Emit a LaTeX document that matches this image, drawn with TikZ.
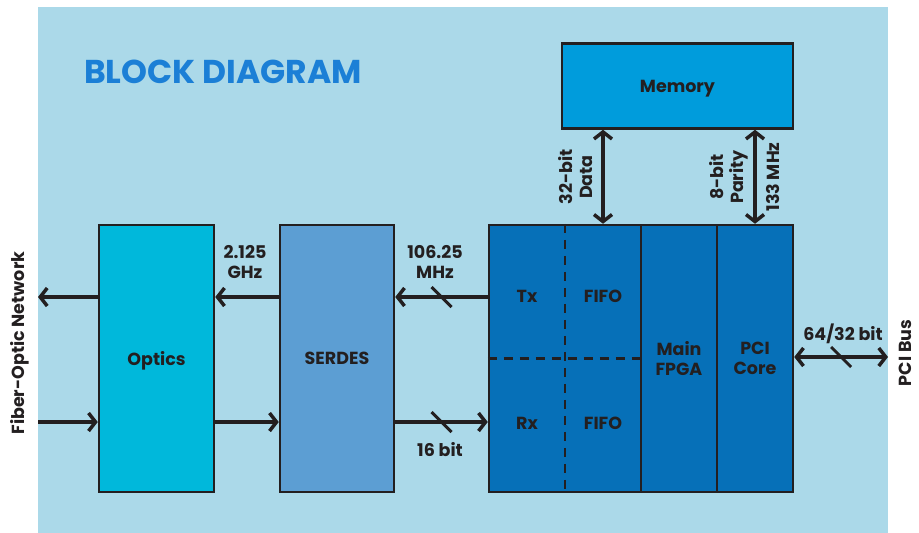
\documentclass[tikz,border=0pt]{standalone}
\usepackage{fontspec}
\setmainfont{Poppins}
\usepackage{tikz}
\usetikzlibrary{arrows.meta,calc,positioning}
\definecolor{skyback}{HTML}{ABD9E9}
\definecolor{opticsblue}{HTML}{00B8DB}
\definecolor{serdesblue}{HTML}{5C9ED3}
\definecolor{fpgablue}{HTML}{0670B8}
\definecolor{memblue}{HTML}{009CDC}
\definecolor{titleblue}{HTML}{1B7FD6}
\definecolor{ink}{HTML}{231F20}

\begin{document}
\begin{tikzpicture}[x=1pt,y=-1pt,% List of styles applied to all, to override specify on a case-by-case
	every node/.style={
		align=center,		% use this so that the "\\" for line break works
		inner sep=0pt,
		text depth=0pt,
		text=ink,
		font=\bfseries\fontsize{17.5}{20}\selectfont
		},
	block/.style={rectangle,draw=ink,line width=2.5pt,minimum height=267pt},
	bus/.style={draw=ink,line width=3.5pt,arrows={-Straight Barb[length=7pt,width=18pt]}},
	twoway/.style={bus,arrows={Straight Barb[length=7pt,width=18pt]-Straight Barb[length=7pt,width=18pt]}},
	slash/.style={draw=ink,line width=3pt}
	]
	% page and background
	\useasboundingbox (0,0) rectangle (919,533);
	\fill[skyback] (38,7) rectangle (888,533);
	\node[text=titleblue,font=\bfseries\fontsize{33}{36}\selectfont](heading) at (223,72){BLOCK DIAGRAM};
	% blocks
	\node[block,fill=opticsblue,minimum width=115pt](optics) at (156.5,358.5){Optics};
	\node[block,fill=serdesblue,minimum width=114pt](serdes)[right=63.5pt of optics]{SERDES};
	\node[block,fill=fpgablue,minimum width=152pt](fpgaio) at (565,358.5){};
	\node[block,fill=fpgablue,minimum width=76pt](mainfpga) at (679,358.5){Main\\FPGA};
	\node[block,fill=fpgablue,minimum width=76pt](pcicore) at (755,358.5){PCI\\Core};
	\node[block,fill=memblue,minimum width=231pt,minimum height=85pt](memory) at (677.5,86){Memory};
	\draw[ink,line width=2.5pt,dash pattern=on 9pt off 7pt] (fpgaio.north) -- (fpgaio.south);
	\draw[ink,line width=2.5pt,dash pattern=on 9pt off 7pt] (fpgaio.west) -- (fpgaio.east);
	\node(tx) at (527,296){Tx};
	\node(txfifo) at (603,296){FIFO};
	\node(rx) at (527,423){Rx};
	\node(rxfifo) at (603,423){FIFO};
	% free ends
	\coordinate(txrow) at (0,297);
	\coordinate(rxrow) at (0,422);
	\coordinate(fiberout) at (38,297);
	\coordinate(fiberin) at (38,422);
	\coordinate(pciend) at (888,357);
	% connectors
	\path[every edge/.style={bus}]
	(optics.west |- txrow)edge [] (fiberout)
	(serdes.west |- txrow)edge [] (optics.east |- txrow)
	(fpgaio.west |- txrow)edge [] (serdes.east |- txrow)
	(fiberin)edge [] (optics.west |- rxrow)
	(optics.east |- rxrow)edge [] (serdes.west |- rxrow)
	(serdes.east |- rxrow)edge [] (fpgaio.west |- rxrow)
	;
	\path[every edge/.style={twoway}]
	(memory.south -| txfifo)edge [] (fpgaio.north -| txfifo)
	(memory.south -| pcicore)edge [] (pcicore.north)
	(pcicore.east |- pciend)edge [] (pciend)
	;
	% bus width marks
	\draw[slash] ($(serdes.east |- txrow)!0.5!(fpgaio.west |- txrow)$) +(-10,-10) -- +(10,10);
	\draw[slash] ($(serdes.east |- rxrow)!0.5!(fpgaio.west |- rxrow)$) +(-10,-10) -- +(10,10);
	\draw[slash] ($(pcicore.east |- pciend)!0.5!(pciend)$) +(-10,-10) -- +(10,10);
	% labels
	\node(ghz) at (245,262){2.125\\GHz};
	\node(mhz) at (435,262){106.25\\MHz};
	\node(bits) at (440,449){16 bit};
	\node(pciwidth) at (843,332){64/32 bit};
	\node[rotate=90](datalbl) at (575,177){32-bit\\Data};
	\node[rotate=90](paritylbl) at (726,177){8-bit\\Parity};
	\node[rotate=90](clocklbl) at (773,177){133 MHz};
	\node[rotate=90](fibernet) at (17,343){Fiber-Optic Network};
	\node[rotate=90](pcibus) at (905,353){PCI Bus};
\end{tikzpicture}
\end{document}
